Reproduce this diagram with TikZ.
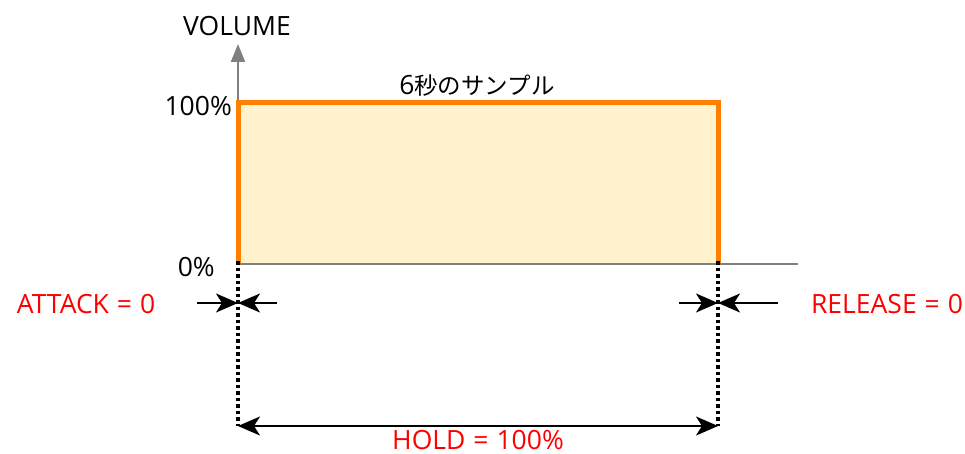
\documentclass[tikz,border=0pt]{standalone}
\usepackage{fontspec}
\setmainfont{Open Sans}
\newfontfamily\cjk{Noto Sans CJK JP}
\usetikzlibrary{arrows.meta}
\definecolor{orng}{HTML}{FF8000}
\definecolor{fillc}{HTML}{FFF2CC}
\definecolor{axisc}{HTML}{808080}
\definecolor{redc}{HTML}{FF0000}
\newcommand{\wsp}{\hspace{0.3em}}
\begin{document}
\begin{tikzpicture}[x=1pt,y=-1pt,
  lbl/.style={font=\fontsize{26.5}{30}\selectfont, inner sep=0pt},
  redlbl/.style={lbl, text=redc},
  axisline/.style={draw=axisc, line width=2pt},
  dotline/.style={draw=black, line width=3.5pt, dash pattern=on 3.5pt off 3pt},
  dimarrow/.style={draw=black, line width=2pt, -{Stealth[length=22pt,width=19pt,inset=6pt]}},
  dimboth/.style={draw=black, line width=2pt, {Stealth[length=22pt,width=19pt,inset=6pt]}-{Stealth[length=22pt,width=19pt,inset=6pt]}}
]
\useasboundingbox (0,0) rectangle (965,454);
% coordinates
\coordinate (O) at (238,264);
\coordinate (Ytop) at (238,44);
\coordinate (Xend) at (798,264);
\coordinate (TL) at (238,103);
\coordinate (TR) at (718,103);
\coordinate (BR) at (718,264);
\coordinate (Lbot) at (238,426);
\coordinate (Rbot) at (718,426);
\coordinate (Aleft) at (197,303);
\coordinate (Amid) at (238,303);
\coordinate (Aright) at (277,303);
\coordinate (Rleft) at (679,303);
\coordinate (Rmid) at (718,303);
\coordinate (Rright) at (778,303);
% fill
\fill[fillc] (O) rectangle (TR);
% axes
\draw[axisline, -{Triangle[length=18pt,width=14pt]}] (O) -- (Ytop);
% orange envelope
\draw[orng, line width=5pt, line join=miter] (O) -- (TL) -- (TR) -- (BR);
\draw[axisline] (O) -- (Xend);
% dotted
\draw[dotline] ([yshift=3pt]O) -- (Lbot);
\draw[dotline] ([yshift=3pt]BR) -- (Rbot);
% dimension arrows
\draw[dimarrow] (Aleft) -- (Amid);
\draw[dimarrow] (Aright) -- (Amid);
\draw[dimarrow] (Rleft) -- (Rmid);
\draw[dimarrow] (Rright) -- (Rmid);
\draw[dimboth] (Lbot) -- (Rbot);
% labels
\node[lbl] (vol) at (237,26) {VOLUME};
\node[lbl, anchor=east] (p100) at (232,106) {100\%};
\node[lbl, anchor=east] (p0) at (215,267) {0\%};
\node[lbl] (sample) at (477,86) {6{\cjk\fontsize{23.5}{27}\selectfont 秒のサンプル}};
\node[redlbl] (attack) at (86,304) {ATTACK\wsp=\wsp0};
\node[redlbl] (release) at (887,304) {RELEASE\wsp=\wsp0};
\node[redlbl] (hold) at (478,440) {HOLD\wsp=\wsp100\%};
\end{tikzpicture}
\end{document}
